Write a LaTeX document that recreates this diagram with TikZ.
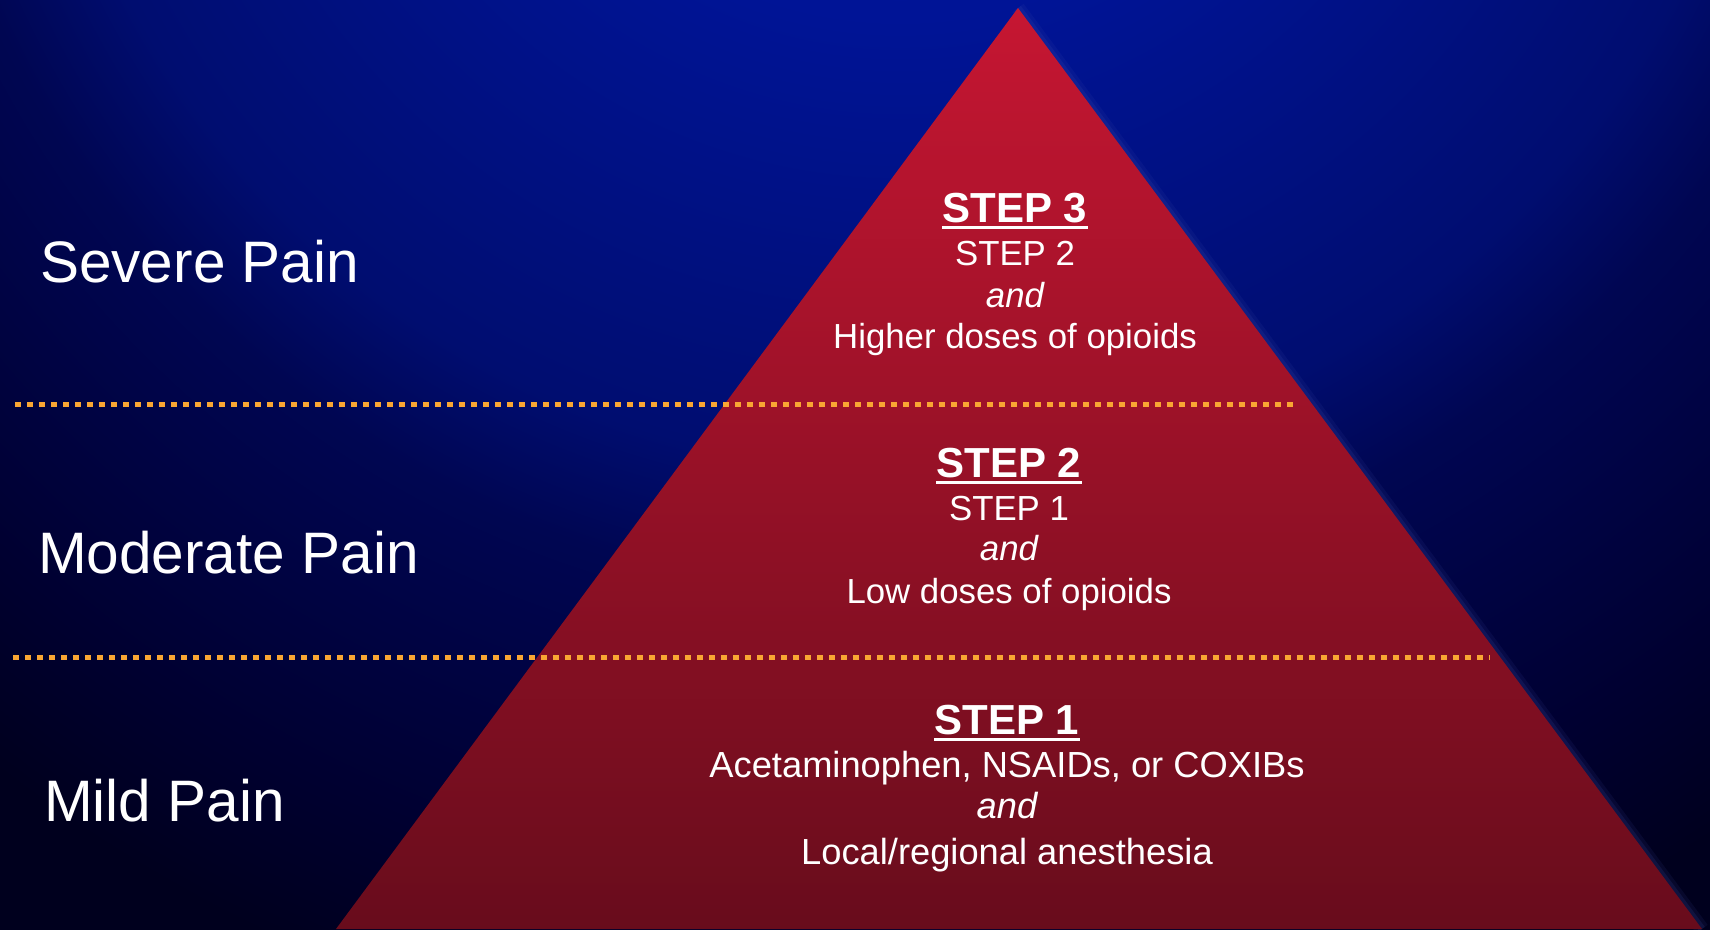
\documentclass[tikz,border=0pt]{standalone}
\usepackage{fontspec}
\setmainfont{Liberation Sans}
\definecolor{bgA}{RGB}{0,25,162}
\definecolor{bgB}{RGB}{0,20,150}
\definecolor{bgC}{RGB}{0,13,112}
\definecolor{bgD}{RGB}{0,6,82}
\definecolor{bgE}{RGB}{0,4,72}
\definecolor{bgF}{RGB}{0,0,48}
\definecolor{bgG}{RGB}{0,0,30}
\definecolor{triTop}{RGB}{198,22,50}
\definecolor{triBot}{RGB}{104,12,28}
\definecolor{dotc}{RGB}{249,166,51}
\definecolor{edgeglow}{RGB}{70,85,175}
\pgfdeclareradialshading{bgglow}{\pgfpoint{0bp}{0bp}}{color(0bp)=(bgA); color(13bp)=(bgB); color(27bp)=(bgC); color(31bp)=(bgD); color(34bp)=(bgE); color(41bp)=(bgF); color(46bp)=(bgG); color(50bp)=(bgG)}
\begin{document}
\begin{tikzpicture}[x=1pt,y=-1pt,
  dotline/.style={draw=dotc, line width=5.5pt, dash pattern=on 5.5pt off 6.5pt},
  txt/.style={text=white, inner sep=0pt, anchor=base},
  side/.style={txt, anchor=base west, font=\fontsize{58.5}{64}\selectfont},
  head/.style={txt, font=\fontsize{42}{48}\selectfont\bfseries},
  body/.style={txt, font=\fontsize{34.8}{40}\selectfont},
  conj/.style={txt, font=\fontsize{34.8}{40}\selectfont\itshape},
  bodyL/.style={txt, font=\fontsize{36.3}{42}\selectfont},
  conjL/.style={txt, font=\fontsize{36.3}{42}\selectfont\itshape},
  uline/.style={draw=white, line width=3pt},
  glow/.style={draw=edgeglow}]
\useasboundingbox (0,0) rectangle (1710,929);
\begin{scope}
  \clip (0,0) rectangle (1710,929);
  \fill[bgG] (0,0) rectangle (1710,929);
  \pgftransformshift{\pgfpointxy{900}{-400}}
  \pgftransformscale{32}
  \pgflowlevelsynccm
  \pgfuseshading{bgglow}
\end{scope}
% pyramid
\coordinate (apex) at (1018,8);
\coordinate (br) at (1702,929);
\coordinate (bl) at (336,929);
\draw[glow, line width=14pt, opacity=0.10] (apex) -- (br);
\draw[glow, line width=7pt, opacity=0.15] (apex) -- (br);
\shade[top color=triTop, bottom color=triBot] (apex) -- (br) -- (bl) -- cycle;
% dotted separators
\coordinate (d1s) at (15,404.5);
\coordinate (d1e) at (1296,404.5);
\coordinate (d2s) at (13,657.5);
\coordinate (d2e) at (1490,657.5);
\draw[dotline] (d1s) -- (d1e);
\draw[dotline] (d2s) -- (d2e);
% side labels
\node[side] (severe) at (40,282) {Severe Pain};
\node[side] (moderate) at (38,573) {Moderate Pain};
\node[side] (mild) at (44,821) {Mild Pain};
% step 3
\node[head] (h3) at (1015,222) {STEP 3};
\draw[uline] ([yshift=-5.5pt]h3.base west) -- ([yshift=-5.5pt]h3.base east);
\node[body] (s3a) at (1015,265) {STEP 2};
\node[conj] (s3b) at (1015,307) {and};
\node[body] (s3c) at (1015,348) {Higher doses of opioids};
% step 2
\node[head] (h2) at (1009,477) {STEP 2};
\draw[uline] ([yshift=-5.5pt]h2.base west) -- ([yshift=-5.5pt]h2.base east);
\node[body] (s2a) at (1009,520) {STEP 1};
\node[conj] (s2b) at (1009,560) {and};
\node[body] (s2c) at (1009,603) {Low doses of opioids};
% step 1
\node[head] (h1) at (1007,734) {STEP 1};
\draw[uline] ([yshift=-5.5pt]h1.base west) -- ([yshift=-5.5pt]h1.base east);
\node[bodyL] (s1a) at (1007,777) {Acetaminophen, NSAIDs, or COXIBs};
\node[conjL] (s1b) at (1007,818) {and};
\node[bodyL] (s1c) at (1007,864) {Local/regional anesthesia};
\end{tikzpicture}
\end{document}
